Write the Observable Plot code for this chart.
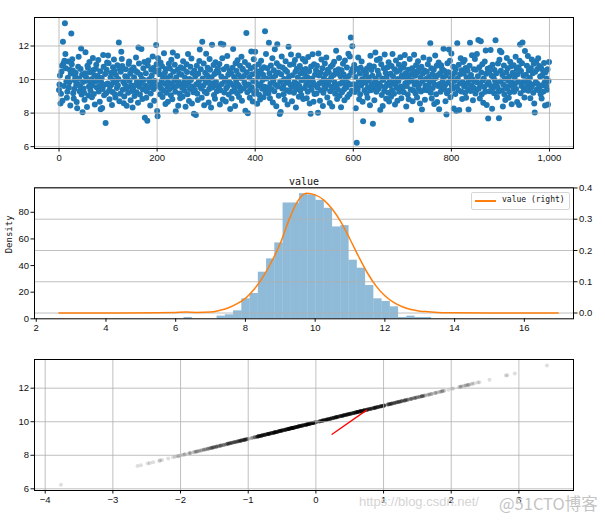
<!DOCTYPE html>
<html><head><meta charset="utf-8">
<script src="https://cdn.jsdelivr.net/npm/d3@7"></script>
<script src="https://cdn.jsdelivr.net/npm/@observablehq/plot@0.6"></script>
<style>
html,body{margin:0;padding:0;background:#fff;}
body{width:605px;height:522px;overflow:hidden;position:relative;font-family:"Liberation Sans",sans-serif;}
.abs{position:absolute;}
</style></head><body>
<script>
// ---- panel 1: raw sample values in index order ----
const values = [
9.38,9.71,10.24,8.58,9.16,10.47,10.83,8.74,12.25,10.96,9.62,11.12,13.35,11.52,10.68,9.89,8.91,9.27,10.11,11.07,9.52,9.84,10.59,8.45,10.36,
12.75,10.92,11.21,10.54,9.18,8.87,9.43,9.96,10.18,10.41,9.67,8.66,8.29,9.74,10.77,11.36,10.06,9.31,9.58,10.63,11.85,9.11,10.29,8.05,9.85,
9.47,9.22,8.79,10.38,11.63,10.15,9.93,8.36,10.82,10.71,9.05,9.59,11.04,10.44,9.36,9.78,10.02,8.94,9.64,11.29,10.57,9.14,10.26,8.52,9.88,
10.65,10.88,9.53,9.97,10.21,11.16,9.29,9.61,8.68,10.49,8.23,9.82,10.09,8.31,9.44,11.47,10.76,9.07,9.69,10.33,7.41,9.19,10.58,11.02,9.76,
11.43,10.97,9.34,8.82,9.58,10.12,10.39,9.71,8.48,9.26,10.74,9.95,11.19,10.53,9.12,8.93,10.27,9.81,9.49,10.86,9.64,10.04,12.21,8.71,10.61,
9.15,10.46,11.66,11.23,10.81,9.39,9.87,8.59,8.99,9.73,10.19,10.62,9.47,8.44,10.08,9.56,9.21,10.93,11.08,9.92,10.35,8.77,10.57,9.63,9.32,
8.33,9.48,10.72,10.14,9.02,9.66,10.51,11.31,9.24,9.89,10.43,8.62,11.91,10.96,9.57,9.11,10.28,9.79,11.82,10.05,8.84,9.41,10.67,9.98,11.05,
7.72,9.63,10.37,8.91,9.29,7.54,10.84,11.14,9.52,10.02,9.86,8.46,9.17,10.58,10.23,9.74,11.38,10.69,9.44,8.73,9.92,10.48,9.58,12.06,10.91,
8.12,7.81,11.27,10.55,9.68,10.31,9.13,11.02,9.46,9.91,10.79,8.96,10.17,9.35,11.57,9.77,10.42,8.55,10.63,9.22,10.09,9.59,8.68,9.83,10.94,
9.42,10.66,10.21,9.07,11.18,9.75,8.83,11.61,10.47,9.54,9.93,10.88,9.28,8.11,10.13,9.62,11.41,10.59,8.44,9.86,10.36,9.17,8.89,10.74,9.69,
10.28,9.51,8.97,11.09,10.64,9.84,9.33,10.11,8.38,9.66,10.92,10.45,9.12,11.52,9.78,8.72,10.03,9.44,10.77,9.97,11.26,8.57,10.39,9.59,9.25,
7.96,10.52,9.38,10.19,7.88,9.72,10.83,9.15,8.78,10.34,9.89,11.11,11.79,9.57,10.61,9.46,8.92,12.26,10.07,9.63,10.96,8.47,9.27,10.41,9.81,
11.54,9.19,10.26,10.71,9.94,8.63,9.43,11.22,10.58,9.65,8.34,10.14,12.08,9.52,9.78,10.87,9.08,10.33,8.86,11.03,9.87,10.49,9.31,9.61,10.67,
10.42,9.56,10.93,8.51,9.36,12.14,10.18,9.74,11.27,8.81,12.09,10.62,9.23,9.91,10.05,8.69,9.48,10.76,11.41,9.62,10.29,9.11,9.85,10.54,8.24,
9.77,10.38,8.87,9.29,10.71,11.82,9.64,10.16,9.41,8.42,10.97,9.93,10.51,9.18,11.15,9.69,10.27,8.96,9.57,10.83,9.34,10.09,11.36,8.73,10.64,
10.58,9.46,10.21,9.83,11.04,8.14,9.61,12.77,10.44,9.25,7.99,10.86,9.71,10.13,8.92,9.38,10.67,11.67,9.54,10.32,8.69,9.92,11.21,9.15,10.76,
11.66,9.87,9.32,10.49,8.56,10.17,9.63,10.92,9.09,10.34,8.81,9.74,11.12,10.61,9.45,9.98,10.28,8.95,10.73,9.57,12.88,9.21,11.53,10.06,9.39,
10.67,9.52,9.18,12.19,10.38,8.88,9.76,10.84,9.43,10.11,11.27,8.63,9.95,10.56,9.31,11.81,10.23,9.67,8.41,10.97,12.11,9.59,10.42,9.04,10.79,
7.94,9.88,8.06,10.31,11.38,9.47,10.72,9.62,9.13,10.04,8.79,10.59,11.09,9.81,9.36,10.46,8.52,9.94,11.96,10.18,9.27,10.88,9.69,11.49,9.55,
8.71,10.26,9.58,10.93,9.21,9.84,11.16,10.47,8.33,9.42,10.65,9.73,10.12,11.44,8.97,9.62,10.81,9.35,10.38,9.08,9.96,10.57,11.23,8.84,10.02,
10.34,9.49,11.08,10.63,9.71,8.88,10.16,9.27,11.35,9.93,10.49,8.58,9.61,7.96,10.78,9.39,10.07,11.51,9.84,8.67,10.91,9.14,10.28,9.66,10.55,
9.17,10.82,9.53,8.02,11.56,10.24,9.78,8.74,10.41,9.36,11.19,9.87,10.67,8.43,9.22,10.09,9.64,10.96,9.45,10.33,11.31,9.91,8.93,10.58,9.69,
10.43,9.94,8.61,9.31,10.76,10.12,9.57,8.39,10.89,9.48,10.27,11.06,9.82,9.16,10.53,11.72,9.67,8.84,10.36,9.39,10.61,11.28,9.03,9.75,10.19,
8.35,10.56,9.24,9.86,10.94,10.31,9.41,8.77,11.13,9.63,10.08,9.52,10.72,8.96,9.79,11.54,10.21,9.12,11.37,9.71,12.51,10.45,9.33,11.98,10.64,
10.48,9.72,10.87,9.26,10.15,8.29,9.58,6.24,10.63,9.41,11.31,9.89,8.82,10.36,9.13,10.71,9.64,11.08,10.02,8.68,7.51,9.95,10.54,9.37,10.27,
9.81,10.39,9.19,10.66,8.91,9.54,10.12,9.93,10.84,8.47,11.42,9.36,10.57,9.68,10.23,7.36,9.47,10.78,8.76,9.85,11.61,10.05,9.28,11.17,9.62,
10.52,9.43,10.29,9.77,11.24,8.18,9.61,10.91,9.08,10.07,8.43,9.98,10.68,9.32,11.49,9.56,10.41,8.86,10.16,9.73,10.74,9.21,11.03,8.69,9.89,
9.66,10.34,8.97,10.81,9.38,11.52,10.19,9.84,9.15,10.62,8.51,9.71,11.14,10.46,9.49,8.74,10.03,9.92,10.88,9.27,10.57,11.33,9.59,8.88,10.25,
10.14,9.53,10.72,9.24,10.93,11.46,9.78,10.38,8.39,9.62,10.06,9.11,10.59,8.83,9.87,11.22,10.27,9.41,7.59,9.96,10.67,8.71,9.35,10.49,11.48,
9.69,10.23,9.17,10.85,9.82,8.93,10.44,11.09,9.46,10.61,9.73,8.58,10.12,9.29,10.77,8.21,9.91,10.36,11.31,9.38,10.54,8.79,9.64,10.03,9.51,
10.47,9.36,10.92,9.58,10.16,11.19,9.84,12.16,9.22,10.68,8.87,10.31,9.49,9.97,10.58,8.54,9.71,11.43,10.09,9.13,10.83,8.66,10.26,9.61,11.02,
8.23,9.74,10.38,9.27,10.86,9.52,10.64,9.89,10.13,11.84,9.43,10.51,9.66,8.71,10.22,7.91,9.18,10.97,9.81,10.44,11.79,9.35,11.12,8.95,10.07,
11.56,9.63,10.24,9.46,10.77,8.27,9.92,10.41,9.14,10.63,8.13,9.57,12.16,10.08,9.38,10.89,8.19,9.76,10.32,11.27,9.29,10.55,8.84,9.85,11.04,
10.36,9.58,11.16,9.21,10.69,8.92,10.14,9.77,10.52,9.43,8.21,9.96,10.83,12.19,9.32,10.27,9.64,11.45,10.02,8.76,9.51,10.61,9.88,11.23,9.17,
10.58,9.37,11.52,9.82,10.19,12.36,9.46,10.73,8.87,9.69,12.29,10.42,9.13,10.91,9.94,8.62,10.07,9.56,11.07,9.28,11.74,10.34,8.49,9.71,10.64,
7.68,9.84,10.46,9.31,10.71,11.76,9.62,10.23,8.26,10.88,9.49,10.12,9.18,10.57,9.93,12.34,9.73,10.38,8.94,9.55,10.96,9.27,7.69,11.18,11.72,
9.89,10.52,11.63,9.36,10.27,8.39,9.71,10.84,9.12,10.06,8.78,9.58,10.43,11.29,9.45,10.67,9.93,8.91,10.18,9.24,11.06,9.67,10.79,8.53,9.81,
10.41,9.53,10.86,9.27,10.14,9.76,11.36,9.44,10.63,8.66,10.32,9.87,10.74,8.48,11.12,12.09,9.19,10.51,9.62,10.97,12.21,9.84,10.22,9.38,8.93,
11.71,9.48,10.29,9.92,10.83,9.61,11.41,9.33,10.56,9.79,10.11,8.89,10.68,9.54,11.19,9.69,10.37,9.22,10.94,8.57,8.04,10.46,9.86,11.06,9.41,
10.62,9.74,11.27,9.36,10.81,9.57,10.18,9.12,10.69,8.87,10.24,9.66,10.53,9.29,10.98,9.83,8.46,10.44,9.63,10.07,9.39,10.61,8.51,9.92,11.04
];
const scatterXTicks = [0, 200, 400, 600, 800, 1000];
const valueTicks = [6, 8, 10, 12];

// ---- panel 2: histogram (30 bins between min and max) + KDE ----
const histMin = 6.24, histMax = 13.34;
const histCounts = [1,0,0,0,2,3,6,15,19,35,45,57,87,87,94,93,89,83,69,70,44,38,25,15,13,9,1,2,1,1];
const kdeX = [2.65,3.5,4.5,5.5,6.0,6.3,6.6,7.0,7.25,7.5,7.75,8.0,8.25,8.5,8.75,9.0,9.25,9.5,9.75,10.0,10.25,10.5,10.75,11.0,11.25,11.5,11.75,12.0,12.25,12.5,12.75,13.0,13.25,13.5,14.0,15.0,16.0,16.97];
const kdeY = [0,0,0,0.001,0.002,0.003,0.002,0.003,0.008,0.016,0.029,0.047,0.076,0.115,0.164,0.223,0.298,0.358,0.383,0.378,0.361,0.331,0.289,0.236,0.180,0.128,0.086,0.055,0.034,0.020,0.011,0.006,0.004,0.002,0.001,0,0,0];
const histXTicks = [2, 4, 6, 8, 10, 12, 14, 16];
const countTicks = [0, 20, 40, 60, 80];
const densityTicks = [0, 0.1, 0.2, 0.3, 0.4];
const histTitle = "value";
const histYLabel = "Density";
const legendLabel = "value (right)";

// ---- panel 3: standardized value vs value, plus red segment ----
const qqCenter = 9.97, qqScale = 0.99;
const redX = [0.24, 0.75];
const redY = [9.25, 10.69];
const qqXTicks = [-4, -3, -2, -1, 0, 1, 2, 3];

const FONT = "Liberation Sans";
const MONO = "DejaVu Sans Mono";
const GRID = {stroke: "#b0b0b0", strokeOpacity: 1, strokeWidth: 0.8};
const AX = {tickSize: 3.5, tickPadding: 2, label: null, fontSize: 9.5};
const baseStyle = {background: "transparent", fontFamily: FONT, fontSize: "9.5px", color: "#111", overflow: "visible"};

function place(svg, top) {
  svg.classList.add("abs");
  svg.style.left = "0px";
  svg.style.top = top + "px";
  document.body.appendChild(svg);
}

// Panel 1
place(Plot.plot({
  width: 605, height: 170,
  marginLeft: 34, marginRight: 32, marginTop: 17, marginBottom: 22,
  style: baseStyle,
  x: {domain: [-50, 1049]},
  y: {domain: [5.89, 13.7]},
  marks: [
    Plot.dot(values.map((v, i) => ({i, v})), {x: "i", y: "v", r: 3.0, fill: "#1f77b4"}),
    Plot.gridX({...GRID, ticks: scatterXTicks}),
    Plot.gridY({...GRID, ticks: valueTicks}),
    Plot.axisX({...AX, ticks: scatterXTicks}),
    Plot.axisY({...AX, ticks: valueTicks}),
    Plot.frame({stroke: "#000", strokeWidth: 1})
  ]
}), 0);

// Panel 2 – histogram layer (left axis)
const nb = histCounts.length, bw = (histMax - histMin) / nb;
const bins = histCounts.map((c, i) => ({lo: histMin + i * bw, hi: histMin + (i + 1) * bw, c}));
const X2 = {domain: [1.95, 17.41]};
const M2 = {width: 605, height: 170, marginLeft: 34, marginRight: 32, marginTop: 17.3, marginBottom: 21.7};
place(Plot.plot({
  ...M2,
  style: baseStyle,
  x: X2,
  y: {domain: [0, 98.4]},
  marks: [
    Plot.rectY(bins, {x1: "lo", x2: "hi", y: "c", fill: "#1f77b4", fillOpacity: 0.5, insetLeft: 0, insetRight: 0}),
    Plot.axisX({...AX, ticks: histXTicks}),
    Plot.axisY({...AX, ticks: countTicks}),
    Plot.text([histYLabel], {frameAnchor: "left", dx: -25, rotate: -90, fontFamily: MONO, fontSize: 9, fill: "#111"}),
    Plot.text([histTitle], {frameAnchor: "top", dy: -10, fontFamily: MONO, fontSize: 10, fill: "#111"})
  ]
}), 170);
// Panel 2 – KDE layer (right axis)
const kde = kdeX.map((x, i) => ({x, y: kdeY[i]}));
place(Plot.plot({
  ...M2,
  style: baseStyle,
  x: {...X2, axis: null},
  y: {domain: [-0.0185, 0.4005]},
  marks: [
    Plot.gridY({...GRID, ticks: densityTicks}),
    Plot.line(kde, {x: "x", y: "y", stroke: "#ff7f0e", strokeWidth: 1.5, curve: "monotone-x"}),
    Plot.axisY({...AX, anchor: "right", ticks: densityTicks, tickFormat: d => d.toFixed(1)}),
    Plot.frame({stroke: "#000", strokeWidth: 1})
  ]
}), 170);

// Panel 3
place(Plot.plot({
  width: 605, height: 182,
  marginLeft: 34, marginRight: 32, marginTop: 19, marginBottom: 32,
  style: baseStyle,
  x: {domain: [-4.158, 3.807]},
  y: {domain: [5.9, 13.71]},
  marks: [
    Plot.dot(values, {x: v => (v - qqCenter) / qqScale, y: v => v, r: 2, fill: "#000", fillOpacity: 0.13}),
    Plot.gridX({...GRID, ticks: qqXTicks}),
    Plot.gridY({...GRID, ticks: valueTicks}),
    Plot.line(redX.map((x, i) => ({x, y: redY[i]})), {x: "x", y: "y", stroke: "red", strokeWidth: 1.3}),
    Plot.axisX({...AX, ticks: qqXTicks}),
    Plot.axisY({...AX, ticks: valueTicks}),
    Plot.frame({stroke: "#000", strokeWidth: 1})
  ]
}), 340);

// Legend for the KDE line
const lg = document.createElement("div");
lg.className = "abs";
lg.style.cssText = "left:471px;top:192px;width:97px;height:16px;border:1px solid #d6d6d6;border-radius:2px;background:rgba(255,255,255,0.85);";
lg.innerHTML = '<div class="abs" style="left:3px;top:7px;width:21px;height:2px;background:#ff7f0e"></div>' +
  '<div class="abs" style="left:30px;top:2px;font:8px \'DejaVu Sans Mono\';color:#111;white-space:nowrap">' + legendLabel + '</div>';
document.body.appendChild(lg);

// Watermarks
const w1 = document.createElement("div");
w1.className = "abs";
w1.style.cssText = "left:359px;top:494px;font:13px 'Liberation Sans';color:#d4d4d4;white-space:nowrap;";
w1.textContent = "https://blog.csdn.net/";
document.body.appendChild(w1);
const w2 = document.createElement("div");
w2.className = "abs";
w2.style.cssText = "left:499px;top:491px;font:16.5px 'Noto Sans CJK SC';color:#c4c4c4;white-space:nowrap;text-shadow:0 0 1px #fff;";
w2.textContent = "@51CTO博客";
document.body.appendChild(w2);
</script>
</body></html>
